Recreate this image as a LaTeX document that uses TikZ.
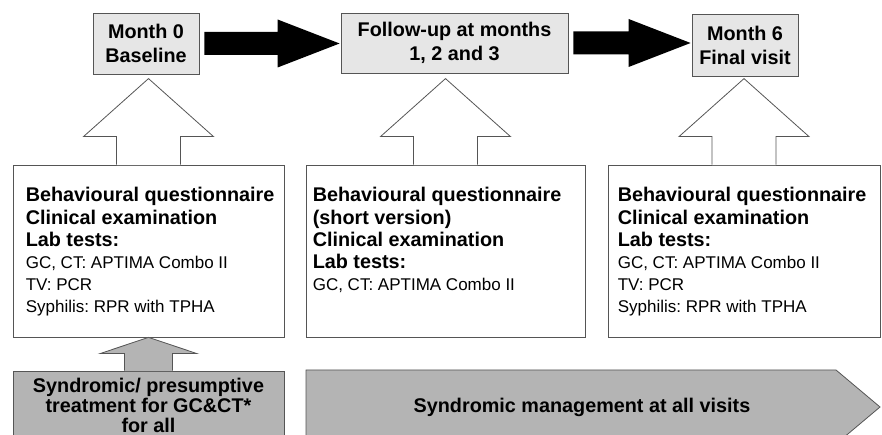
\documentclass[tikz,border=0pt]{standalone}
\usepackage{fontspec}
\setmainfont{Liberation Sans}
\usetikzlibrary{positioning,calc}
\definecolor{boxGray}{HTML}{E6E6E6}
\definecolor{midGray}{HTML}{B4B4B4}
\definecolor{lineGray}{HTML}{555555}
\newcommand{\regtext}{\fontsize{17}{22.2}\mdseries\selectfont}
\frenchspacing

\begin{document}
\begin{tikzpicture}[x=1pt,y=1pt,
  visit/.style={draw=lineGray, fill=boxGray, line width=0.8pt, minimum width=106pt,
    minimum height=61pt, inner sep=0pt, align=center,
    font=\bfseries\fontsize{19.8}{24}\selectfont},
  contentbox/.style={draw=lineGray, fill=white, line width=0.8pt, minimum height=172pt, inner sep=0pt},
  contenttext/.style={anchor=north west, inner sep=0pt, align=left,
    font=\bfseries\fontsize{19.8}{22.2}\selectfont},
  outline/.style={draw=lineGray, line width=0.8pt},
  treatbox/.style={draw=lineGray, fill=midGray, line width=0.8pt, inner sep=0pt, align=center,
    font=\bfseries\fontsize{19.8}{20.4}\selectfont}]
    \useasboundingbox (0,0) rectangle (882,435);
    \clip (0,0) rectangle (882,435);

    % Visits
    \node[visit] (m0) at (146,391.5) {Month 0\\Baseline};
    \node[visit, minimum width=227pt, minimum height=60pt] (fu) at (454.5,392) {Follow-up at months\\1, 2 and 3};
    \node[visit, minimum height=62pt] (m6) at (745,390) {Month 6\\Final visit};

    % Black arrows between visits
    \foreach \a/\b in {m0/fu, fu/m6} {
        \fill let \p1=(\a.east), \p2=(\b.west) in
            (\x1+5pt,\y1+11.5pt) -- (\x2-63pt,\y1+11.5pt) -- (\x2-63pt,\y1+24pt) -- (\x2-1pt,\y1)
            -- (\x2-63pt,\y1-24pt) -- (\x2-63pt,\y1-11.5pt) -- (\x1+5pt,\y1-11.5pt) -- cycle;
}

    % Procedures at each visit
    \node[contentbox, minimum width=271pt] (q1) at (148.5,184) {};
    \node[contentbox, minimum width=279pt] (q2) at (445.5,184) {};
    \node[contentbox, minimum width=272pt] (q3) at (744,184) {};
    \node[contenttext] (t1) at ($(q1.north west)+(13,-22.8)$) {Behavioural questionnaire\\Clinical examination\\Lab tests:\\
        \regtext GC, CT: APTIMA Combo II\\\regtext TV: PCR\\\regtext Syphilis: RPR with TPHA};
    \node[contenttext] (t2) at ($(q2.north west)+(7,-22.8)$) {Behavioural questionnaire\\(short version)\\Clinical examination\\Lab tests:\\
        \regtext GC, CT: APTIMA Combo II};
    \node[contenttext] (t3) at ($(q3.north west)+(10,-22.8)$) {Behavioural questionnaire\\Clinical examination\\Lab tests:\\
        \regtext GC, CT: APTIMA Combo II\\\regtext TV: PCR\\\regtext Syphilis: RPR with TPHA};

    % Hollow arrows up to the visits
    \foreach \b in {q1,q2,q3} {
        \fill[white] ($(\b.north)+(-32,-0.6)$) -- ++(0,28.6) -- ++(-33,0) -- ($(\b.north)+(0,86)$)
            -- ($(\b.north)+(65,28)$) -- ++(-33,0) -- ++(0,-28.6) -- cycle;
        \draw[outline] ($(\b.north)+(-32,0)$) -- ++(0,28) -- ++(-33,0) -- ($(\b.north)+(0,86)$)
            -- ($(\b.north)+(65,28)$) -- ++(-33,0) -- ++(0,-28);
}

    % Treatment
    \node[treatbox, minimum width=271pt, minimum height=68.8pt] (g1) at (148.5,29.6) {Syndromic/ presumptive\\treatment for GC\&CT*\\for all};
    \fill[midGray] ($(g1.north)+(-24,-0.6)$) -- ++(0,17.6) -- ++(-24.5,0) -- (q1.south)
        -- ($(g1.north)+(48.5,17)$) -- ++(-24.5,0) -- ++(0,-17.6) -- cycle;
    \draw[outline] ($(g1.north)+(-24,0)$) -- ++(0,17) -- ++(-24.5,0) -- (q1.south)
        -- ($(g1.north)+(48.5,17)$) -- ++(-24.5,0) -- ++(0,-17);

    % Management band
    \draw[outline, fill=midGray] (306,65) -- (836,65) -- (880,28) -- (836,-9) -- (306,-9) -- cycle;
    \node[font=\bfseries\fontsize{19.8}{22}\selectfont, inner sep=0pt] (g2) at (582,28) {Syndromic management at all visits};
\end{tikzpicture}
\end{document}
